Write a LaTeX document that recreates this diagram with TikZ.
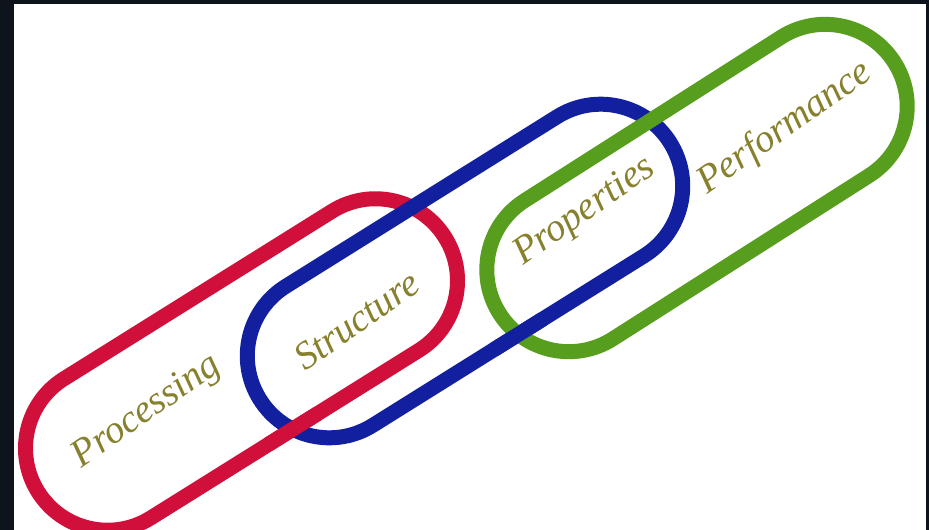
\documentclass[tikz,border=0pt]{standalone}
\usepackage{fontspec}
\setmainfont{Liberation Serif}
\definecolor{LinkRed}{RGB}{208,16,58}
\definecolor{LinkBlue}{RGB}{18,32,160}
\definecolor{LinkGreen}{RGB}{88,158,30}
\definecolor{WordOlive}{RGB}{135,128,45}
\definecolor{FrameDark}{RGB}{14,20,28}
\tikzset{
  link/.style={line width=15pt, rounded corners=82pt},
  redlink/.style={link, draw=LinkRed, shift={(241.5,364.5)}, rotate=32},
  bluelink/.style={link, draw=LinkBlue, shift={(465,271)}, rotate=32},
  greenlink/.style={link, draw=LinkGreen, shift={(697,188)}, rotate=32.5},
  word/.style={font=\fontsize{39}{42}\selectfont\itshape, text=WordOlive, rotate=35, inner sep=0pt}
}
\begin{document}
\begin{tikzpicture}[x=1pt, y=-1pt]
      \useasboundingbox (0,0) rectangle (929,530);
      \clip (0,0) rectangle (929,530);
      \fill[FrameDark] (0,0) rectangle (929,530);
      \fill[white] (14,4) rectangle (926,530);
      % the three links, drawn back to front
      \draw[redlink] (-240,-82) rectangle (240,82);
      \draw[bluelink] (-242,-82) rectangle (242,82);
      \draw[greenlink] (-234,-82) rectangle (234,82);
      % red passes over blue, blue over green
      \begin{scope}
        \clip (292,428) circle (30);
        \draw[redlink] (-240,-82) rectangle (240,82);
      \end{scope}
      \begin{scope}
        \clip (518,334) circle (30);
        \draw[bluelink] (-242,-82) rectangle (242,82);
      \end{scope}
      \node[word] (processing) at (147,412) {Processing};
      \node[word] (structure) at (357,320) {Structure};
      \node[word] (properties) at (585,212) {Properties};
      \node[word] (performance) at (785,128) {Performance};
    \end{tikzpicture}
\end{document}
